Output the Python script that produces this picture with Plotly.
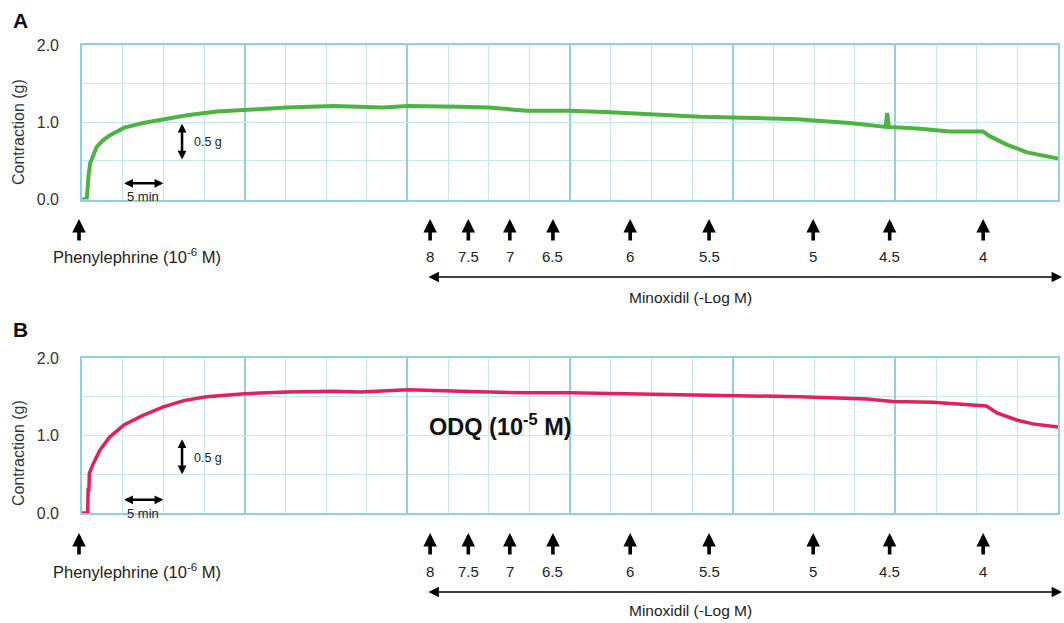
import plotly.graph_objects as go

# ---------------- data ----------------
time_a = [0, 0.6, 0.8, 1.0, 1.8, 2.5, 3.4, 5.2, 7.5, 10, 12.9, 16.6, 20.7, 25.2, 30.9, 34.2, 37,
          40.1, 43, 46.5, 50, 52.6, 54.7, 57, 60, 64.9, 68, 71.1, 76, 80, 86.2, 88, 90.4, 94.4,
          98.8, 99.0, 99.2, 102.7, 106.7, 110.8, 111.6, 113.7, 116.2, 118.6, 120]
force_a = [-0.01, 0.02, 0.30, 0.47, 0.68, 0.76, 0.83, 0.93, 0.99, 1.04, 1.09, 1.14, 1.17, 1.19, 1.21, 1.20, 1.19,
           1.21, 1.20, 1.20, 1.19, 1.17, 1.15, 1.15, 1.15, 1.13, 1.11, 1.09, 1.07, 1.06, 1.05, 1.04, 1.02, 0.99,
           0.94, 1.12, 0.94, 0.92, 0.88, 0.88, 0.82, 0.71, 0.61, 0.56, 0.53]

time_b = [0, 0.7, 0.75, 0.85, 0.9, 1.4, 2.2, 3.4, 5.2, 7.5, 10, 12.5, 15.3, 20, 25.2, 30.9, 34.2,
          40.1, 46.5, 54.7, 60, 67, 75.1, 80, 88.3, 96.5, 99.7, 104.6, 110.8, 111.2, 112.5, 114.9, 116.9, 120]
force_b = [0, 0, 0.30, 0.30, 0.51, 0.64, 0.81, 0.98, 1.14, 1.26, 1.37, 1.45, 1.50, 1.54, 1.56, 1.57, 1.56,
           1.59, 1.57, 1.55, 1.55, 1.54, 1.53, 1.52, 1.50, 1.47, 1.44, 1.43, 1.39, 1.38, 1.29, 1.20, 1.15, 1.11]

minoxidil_times = [42.8, 47.5, 52.6, 57.9, 67.4, 77.1, 89.9, 99.3, 110.8]
minoxidil_labels = ["8", "7.5", "7", "6.5", "6", "5.5", "5", "4.5", "4"]

y_tick_vals = [0, 1, 2]
y_tick_text = ["0.0", "1.0", "2.0"]

time_bar = [5, 10]              # 5 min scale bar
force_bar_a = [0.50, 0.98]      # 0.5 g scale bar
force_bar_b = [0.48, 0.95]
force_bar_time = 12.3

# ---------------- figure ----------------
W, H = 1064, 623
def py(px):
    return 1 - px / H

fig = go.Figure()
fig.add_trace(go.Scatter(x=time_a, y=force_a, mode="lines", line=dict(color="#4db444", width=4),
                         xaxis="x", yaxis="y", hoverinfo="skip"))
fig.add_trace(go.Scatter(x=time_b, y=force_b, mode="lines", line=dict(color="#e2205c", width=3.5),
                         xaxis="x2", yaxis="y2", hoverinfo="skip"))

major_grid = "#8fd2dc"
minor_grid = "#c4e8ee"

def xaxis_cfg(anchor):
    return dict(domain=[82 / W, 1058 / W], range=[0, 120], anchor=anchor, automargin=False,
                showticklabels=False, ticks="", dtick=20, tick0=0,
                showgrid=True, gridcolor=major_grid, gridwidth=1.6,
                minor=dict(dtick=5, showgrid=True, gridcolor=minor_grid, gridwidth=1),
                showline=True, mirror=True, linecolor=major_grid, linewidth=1.6,
                zeroline=False, fixedrange=True)

def yaxis_cfg(anchor, dom):
    return dict(domain=dom, range=[0, 2], anchor=anchor, automargin=False,
                tickvals=y_tick_vals, ticktext=y_tick_text,
                tickfont=dict(family="Liberation Sans, Arial", size=16, color="#333"),
                ticks="outside", ticklen=18, tickcolor="rgba(0,0,0,0)",
                showgrid=True, gridcolor=minor_grid, gridwidth=1.2,
                minor=dict(dtick=0.5, showgrid=True, gridcolor=minor_grid, gridwidth=1.2),
                showline=True, mirror=True, linecolor=major_grid, linewidth=1.6,
                zeroline=False, fixedrange=True)

fig.update_layout(
    width=W, height=H, margin=dict(l=0, r=0, t=0, b=0, pad=0), autosize=False,
    paper_bgcolor="white", plot_bgcolor="white", showlegend=False,
    font=dict(family="Liberation Sans, Arial", color="#222"),
    xaxis=xaxis_cfg("y"), yaxis=yaxis_cfg("x", [py(199.5), py(45)]),
    xaxis2=xaxis_cfg("y2"), yaxis2=yaxis_cfg("x2", [py(513), py(358)]),
)

ann = []
txt = dict(family="Liberation Sans, Arial", color="#222")

# panel letters
for lbl, yc in (("A", 21), ("B", 330)):
    ann.append(dict(text="<b>%s</b>" % lbl, x=11 / W, y=py(yc), xref="paper", yref="paper", showarrow=False,
                    xanchor="left", yanchor="middle",
                    font=dict(size=21, color="#111", family="Liberation Sans, Arial")))

# y titles
for yc in (132, 453):
    ann.append(dict(text="Contraction (g)", x=18 / W, y=py(yc), xref="paper", yref="paper", showarrow=False,
                    textangle=-90, xanchor="center", yanchor="middle",
                    font=dict(size=16, family="Liberation Sans, Arial", color="#333")))

# ODQ label
ann.append(dict(text="<b>ODQ (10<sup>-5</sup> M)</b>", x=500 / W, y=py(425), xref="paper", yref="paper",
                xanchor="center", yanchor="middle", showarrow=False,
                font=dict(size=23.5, color="#111", family="Liberation Sans, Arial")))

# scale bars
for xr, yr, fb, y5 in (("x", "y", force_bar_a, 0.21), ("x2", "y2", force_bar_b, 0.17)):
    ann.append(dict(x=time_bar[1], y=y5, ax=time_bar[0], ay=y5, xref=xr, yref=yr, axref=xr, ayref=yr,
                    text="", showarrow=True, arrowside="end+start", arrowhead=2, arrowsize=0.7,
                    arrowwidth=2.5, arrowcolor="black"))
    ann.append(dict(x=sum(time_bar) / 2, y=y5 - 0.17, xref=xr, yref=yr, text="5 min", showarrow=False,
                    xanchor="center", yanchor="middle", font=dict(size=13, **txt)))
    ann.append(dict(x=force_bar_time, y=fb[1], ax=force_bar_time, ay=fb[0], xref=xr, yref=yr, axref=xr, ayref=yr,
                    text="", showarrow=True, arrowside="end+start", arrowhead=2, arrowsize=0.7,
                    arrowwidth=2.5, arrowcolor="black"))
    ann.append(dict(x=force_bar_time + 1.2, y=sum(fb) / 2, xref=xr, yref=yr, text="0.5 g", showarrow=False,
                    xanchor="left", yanchor="middle", font=dict(size=12.5, **txt)))

# event arrows under each panel
for xr, tip, lab, line_y, minox_y in (("x", 219, 256, 277, 297), ("x2", 533, 571, 592, 610)):
    # phenylephrine arrow sits just left of the axis start -> paper coordinates
    ann.append(dict(x=79 / W, y=py(tip), xref="paper", yref="paper", ax=0, ay=23, text="",
                    showarrow=True, arrowhead=2, arrowsize=0.75, arrowwidth=3.6, arrowcolor="black"))
    for t in minoxidil_times:
        ann.append(dict(x=t, y=py(tip), xref=xr, yref="paper", ax=0, ay=23, text="",
                        showarrow=True, arrowhead=2, arrowsize=0.75, arrowwidth=3.6, arrowcolor="black"))
    for t, l in zip(minoxidil_times, minoxidil_labels):
        ann.append(dict(x=t, y=py(lab), xref=xr, yref="paper", text=l, showarrow=False,
                        xanchor="center", yanchor="middle", font=dict(size=15, **txt)))
    ann.append(dict(x=137 / W, y=py(lab), xref="paper", yref="paper", text="Phenylephrine (10<sup>-6</sup> M)",
                    showarrow=False, xanchor="center", yanchor="middle", font=dict(size=16.5, **txt)))
    ann.append(dict(x=1062 / W, y=py(line_y), ax=-(1062 - 427), ay=0,
                    xref="paper", yref="paper", text="", showarrow=True,
                    arrowside="end+start", arrowhead=2, arrowsize=1.6, arrowwidth=1.3, arrowcolor="black"))
    ann.append(dict(x=690 / W, y=py(minox_y), xref="paper", yref="paper", text="Minoxidil (-Log M)",
                    showarrow=False, xanchor="center", yanchor="middle", font=dict(size=15.5, **txt)))

fig.update_layout(annotations=ann)
fig.write_html("out.html", config={"displayModeBar": False},
               post_script="document.body.style.margin='0';document.body.style.overflow='hidden';")
